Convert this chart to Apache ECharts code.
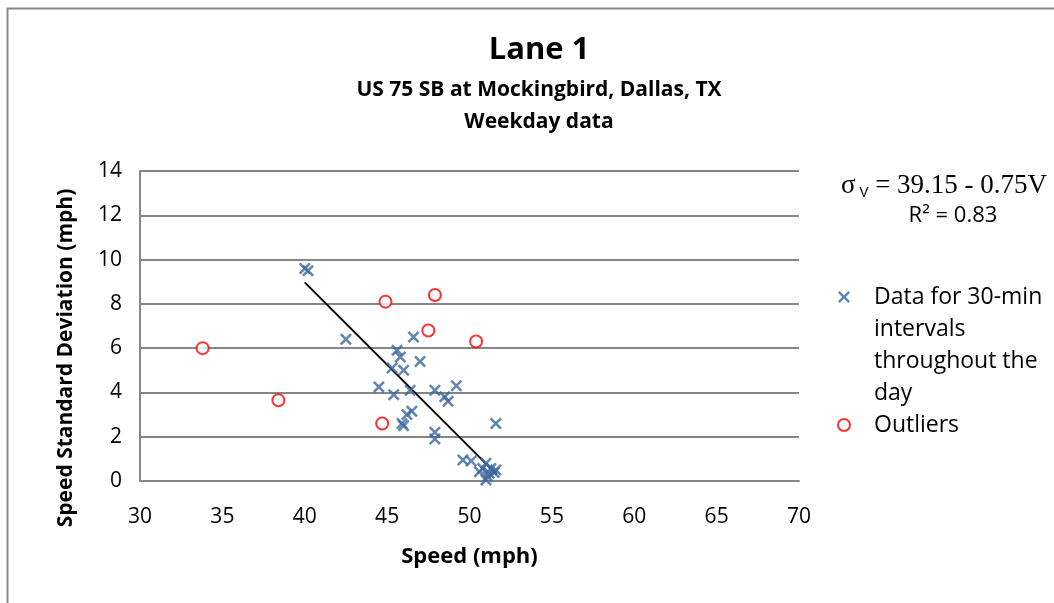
<!DOCTYPE html>
<html>
<head>
<meta charset="utf-8">
<script src="https://cdn.jsdelivr.net/npm/echarts@6/dist/echarts.min.js"></script>
<style>
html,body{margin:0;padding:0;background:#fff;}
#chart{width:1054px;height:603px;}
</style>
</head>
<body>
<div id="chart"></div>
<script>
// ---- data ----
var dataSpeed = [40.0, 40.2, 42.5, 46.6, 45.6, 45.8, 47.0, 45.3, 46.0, 44.5, 45.4, 46.4, 47.9, 49.2, 48.5, 48.7, 46.5, 46.2, 45.9, 46.0, 47.9, 47.9, 51.6, 49.6, 50.1, 51.0, 50.8, 51.3, 51.6, 51.2, 50.6, 51.0, 51.5, 51.1];
var dataSd    = [9.6, 9.5, 6.4, 6.5, 5.9, 5.6, 5.4, 5.1, 5.0, 4.25, 3.9, 4.1, 4.1, 4.3, 3.8, 3.6, 3.15, 3.0, 2.6, 2.5, 2.2, 1.9, 2.6, 0.95, 0.9, 0.8, 0.57, 0.57, 0.5, 0.35, 0.42, 0.05, 0.38, 0.2];
var outlierSpeed = [33.8, 38.4, 44.9, 47.9, 47.5, 50.4, 44.7];
var outlierSd    = [6.0, 3.65, 8.1, 8.4, 6.8, 6.3, 2.6];
var trendSpeed = [40.0, 51.65];
var trendSd    = [8.97, 0.3];
var xTicks = [30, 35, 40, 45, 50, 55, 60, 65, 70];
var yTicks = [0, 2, 4, 6, 8, 10, 12, 14];
var seriesNames = ['Data for 30-min intervals throughout the day', 'Outliers'];
var legendLabels = ['\n\n\nData for 30-min\nintervals\nthroughout the\nday', 'Outliers'];

function pairs(xs, ys){ return xs.map(function(x,i){ return [x, ys[i]]; }); }

var crossPath = 'path://M0,1.5L1.5,0L5,3.5L8.5,0L10,1.5L6.5,5L10,8.5L8.5,10L5,6.5L1.5,10L0,8.5L3.5,5Z';
var FONT = '"Open Sans", Lato, sans-serif';
var blue = '#3C679F';

var chart = echarts.init(document.getElementById('chart'), null, {renderer:'canvas'});
chart.setOption({
  backgroundColor: '#fff',
  animation: false,
  title: [
    {text:'Lane 1', left:534, top:30, textAlign:'center',
     textStyle:{fontFamily:FONT, fontSize:31, fontWeight:'bold', color:'#000'}},
    {text:'US 75 SB at Mockingbird, Dallas, TX', left:534, top:75, textAlign:'center',
     textStyle:{fontFamily:FONT, fontSize:21, fontWeight:'bold', color:'#000'}},
    {text:'Weekday data', left:534, top:107, textAlign:'center',
     textStyle:{fontFamily:FONT, fontSize:21, fontWeight:'bold', color:'#000'}},
    {text:'{s|σ}{sub| V}{s| = 39.15 - 0.75V}', left:836, top:167,
     textStyle:{fontWeight:'normal', rich:{
       s:{fontFamily:'"Liberation Serif", "DejaVu Serif", serif', fontSize:27, fontWeight:'normal', color:'#000'},
       sub:{fontFamily:'"Open Sans", sans-serif', fontSize:15, fontWeight:'normal', color:'#000', verticalAlign:'bottom', padding:[13,0,0,0]}
     }}},
    {text:'R² = 0.83', left:948, top:200, textAlign:'center',
     textStyle:{fontFamily:FONT, fontSize:22, fontWeight:'normal', color:'#000'}}
  ],
  grid: {left:140, top:171, width:659, height:310, containLabel:false},
  xAxis: {
    type:'value', min:xTicks[0], max:xTicks[xTicks.length-1], interval:5,
    name:'Speed (mph)', nameLocation:'middle', nameGap:65,
    nameTextStyle:{fontFamily:FONT, fontSize:22, fontWeight:'bold', color:'#000'},
    axisLine:{show:true, lineStyle:{color:'#868686', width:2}},
    axisTick:{show:false},
    axisLabel:{fontFamily:FONT, fontSize:21, color:'#000', margin:26},
    splitLine:{show:false}
  },
  yAxis: {
    type:'value', min:yTicks[0], max:yTicks[yTicks.length-1], interval:2,
    axisLine:{show:true, lineStyle:{color:'#868686', width:2}},
    axisTick:{show:false},
    axisLabel:{fontFamily:FONT, fontSize:21, color:'#000', margin:18},
    splitLine:{show:true, lineStyle:{color:'#868686', width:2}}
  },
  legend: {
    orient:'vertical', left:837, top:185, padding:0, itemGap:0, itemWidth:12, itemHeight:12,
    data:[
      {name:seriesNames[0], icon:crossPath, itemStyle:{color:blue}},
      {name:seriesNames[1], icon:'circle', itemStyle:{color:'#fff', borderColor:'#ff0000', borderWidth:2}}
    ],
    formatter:function(n){ return legendLabels[seriesNames.indexOf(n)]; },
    textStyle:{fontFamily:FONT, fontSize:23, color:'#000', lineHeight:32, padding:[0,0,0,19]}
  },
  graphic: [
    {type:'rect', left:5, top:6, shape:{width:1100, height:650}, silent:true, z:-10,
     style:{fill:'none', stroke:'#888', lineWidth:2}},
    {type:'text', x:66, y:358, rotation:Math.PI/2, silent:true,
     style:{text:'Speed Standard Deviation (mph)', fontFamily:FONT, fontSize:21, fontWeight:'bold',
            fill:'#000', align:'center', verticalAlign:'middle'}}
  ],
  series: [
    {name:'trend', type:'line', data:pairs(trendSpeed, trendSd), showSymbol:false, symbol:'none',
     lineStyle:{color:'#000', width:2}, z:3},
    {name:seriesNames[0], type:'scatter', data:pairs(dataSpeed, dataSd), symbol:crossPath, symbolSize:12,
     itemStyle:{color:blue}, z:4},
    {name:seriesNames[1], type:'scatter', data:pairs(outlierSpeed, outlierSd), symbol:'circle', symbolSize:12,
     itemStyle:{color:'#fff', borderColor:'#ff0000', borderWidth:2}, z:5}
  ]
});
</script>
</body>
</html>
